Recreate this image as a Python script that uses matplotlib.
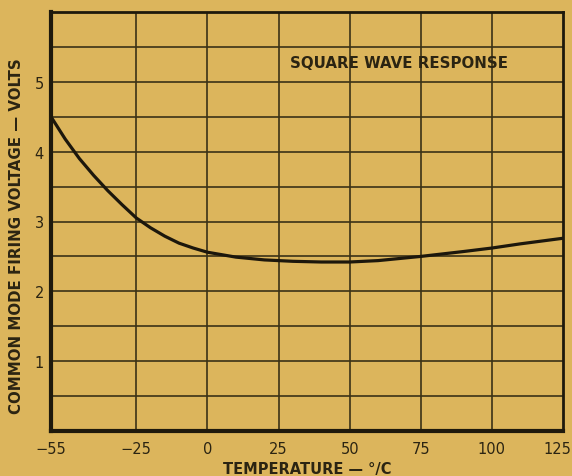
import matplotlib
matplotlib.use("Agg")
import matplotlib.pyplot as plt
import matplotlib.transforms as mtransforms
import numpy as np

# Common-mode firing voltage vs. temperature (square wave response)
temperature_c = [-55, -50, -45, -40, -35, -30, -25, -20, -15, -10, -5, 0,
                 10, 20, 30, 40, 50, 60, 75, 90, 100, 110, 125]
firing_voltage = [4.50, 4.18, 3.90, 3.66, 3.44, 3.24, 3.05, 2.91, 2.79, 2.69, 2.62, 2.56,
                  2.49, 2.45, 2.43, 2.42, 2.42, 2.44, 2.50, 2.57, 2.62, 2.68, 2.76]

x_ticks = [-55, -25, 0, 25, 50, 75, 100, 125]
x_tick_labels = ["\u221255", "\u221225", "0", "25", "50", "75", "100", "125"]
y_ticks = [1, 2, 3, 4, 5]
y_tick_labels = ["1", "2", "3", "4", "5"]
y_grid = np.arange(0.5, 6.0, 0.5)

paper = "#DCB55C"
ink = "#2b2412"
grid_ink = "#3a3217"

fig = plt.figure(figsize=(5.72, 4.77), dpi=100, facecolor=paper)
ax = fig.add_axes([51 / 572, 1 - 432 / 477, 512 / 572, 419 / 477])
ax.set_facecolor(paper)

# grid
for x in x_ticks[1:-1]:
    ax.axvline(x, color=grid_ink, lw=1.2, zorder=1)
for y in y_grid:
    ax.axhline(y, color=grid_ink, lw=1.2, zorder=1)

ax.plot(temperature_c, firing_voltage, color="#1c170c", lw=2.3, zorder=3,
        solid_capstyle="round")

ax.set_xlim(-55, 125)
ax.set_ylim(0, 6)

ax.set_xticks(x_ticks)
ax.set_xticklabels(x_tick_labels)
ax.set_yticks(y_ticks)
ax.set_yticklabels(y_tick_labels)
ax.tick_params(axis="both", length=0, colors=ink, labelsize=10.5)
ax.tick_params(axis="x", pad=7)
ax.tick_params(axis="y", pad=5)

# keep the last temperature label inside the figure edge
last = ax.get_xticklabels()[-1]
last.set_transform(last.get_transform() +
                   mtransforms.ScaledTranslation(-6 / 100, 0, fig.dpi_scale_trans))

for side, w in [("left", 3.0), ("bottom", 3.0), ("top", 2.0), ("right", 2.0)]:
    ax.spines[side].set_linewidth(w)
    ax.spines[side].set_color("#1e190c")

ax.set_xlabel("TEMPERATURE \u2014 \u00b0/C", fontsize=10.5, fontweight="bold",
              color=ink, labelpad=4)
ax.set_ylabel("COMMON MODE FIRING VOLTAGE \u2014 VOLTS", fontsize=10.8,
              fontweight="bold", color=ink)
ax.yaxis.set_label_coords(-0.053, 0.468)

ax.text(67.5, 5.28, "SQUARE WAVE RESPONSE", fontsize=10.8, fontweight="bold",
        color=ink, ha="center", va="center", zorder=4)

fig.savefig("out.png", dpi=100, facecolor=paper)
